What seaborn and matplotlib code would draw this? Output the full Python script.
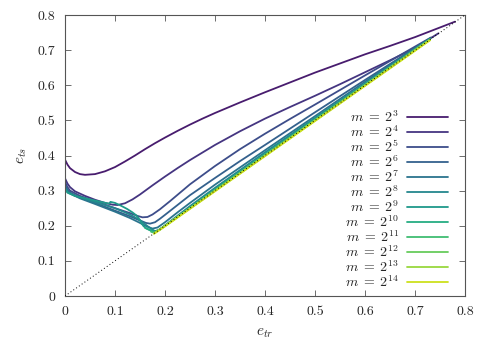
import numpy as np
import pandas as pd
import matplotlib
matplotlib.use("Agg")
import matplotlib.pyplot as plt
import seaborn as sns

# values (e_tr, e_ts), one curve per m
exponents = [3, 4, 5, 6, 7, 8, 9, 10, 11, 12, 13, 14]

etr_3 = [0, 0.005, 0.01, 0.02, 0.03, 0.04, 0.06, 0.08, 0.10, 0.12, 0.14, 0.16, 0.18, 0.20, 0.225,
         0.25, 0.275, 0.30, 0.35, 0.40, 0.45, 0.50, 0.55, 0.60, 0.65, 0.70, 0.74, 0.78]
ets_3 = [0.388, 0.374, 0.364, 0.353, 0.347, 0.345, 0.347, 0.355, 0.367, 0.383, 0.400, 0.418, 0.435,
         0.451, 0.470, 0.488, 0.505, 0.521, 0.551, 0.580, 0.608, 0.636, 0.662, 0.688, 0.712, 0.737,
         0.759, 0.781]

etr_4 = [0, 0.005, 0.01, 0.02, 0.04, 0.06, 0.08, 0.095, 0.105, 0.12, 0.135, 0.15, 0.175, 0.20, 0.225,
         0.25, 0.30, 0.35, 0.40, 0.45, 0.50, 0.55, 0.60, 0.65, 0.70, 0.747]
ets_4 = [0.335, 0.320, 0.310, 0.298, 0.285, 0.274, 0.265, 0.260, 0.259, 0.264, 0.275, 0.289, 0.315,
         0.340, 0.364, 0.387, 0.430, 0.469, 0.505, 0.538, 0.570, 0.603, 0.637, 0.671, 0.706, 0.748]

etr_5 = [0, 0.005, 0.01, 0.03, 0.06, 0.10, 0.13, 0.145, 0.155, 0.165, 0.175, 0.19, 0.21, 0.25, 0.30,
         0.35, 0.40, 0.45, 0.50, 0.60, 0.70, 0.732]
ets_5 = [0.325, 0.310, 0.300, 0.285, 0.270, 0.250, 0.236, 0.228, 0.224, 0.225, 0.232, 0.247, 0.270,
         0.318, 0.370, 0.418, 0.462, 0.504, 0.545, 0.628, 0.710, 0.736]

etr_6 = [0, 0.005, 0.01, 0.03, 0.06, 0.10, 0.13, 0.15, 0.162, 0.17, 0.18, 0.19, 0.20, 0.225, 0.25,
         0.30, 0.35, 0.40, 0.50, 0.60, 0.70, 0.731]
ets_6 = [0.316, 0.303, 0.295, 0.280, 0.265, 0.243, 0.227, 0.215, 0.208, 0.206, 0.210, 0.220, 0.231,
         0.259, 0.287, 0.336, 0.384, 0.430, 0.523, 0.615, 0.706, 0.734]

etr_7 = [0, 0.005, 0.01, 0.03, 0.06, 0.10, 0.13, 0.15, 0.165, 0.175, 0.185, 0.20, 0.225, 0.25, 0.30,
         0.35, 0.40, 0.50, 0.60, 0.70, 0.730]
ets_7 = [0.311, 0.299, 0.292, 0.278, 0.262, 0.240, 0.222, 0.208, 0.197, 0.192, 0.195, 0.210, 0.238,
         0.265, 0.317, 0.366, 0.415, 0.512, 0.610, 0.705, 0.733]

etr_8 = [0, 0.005, 0.02, 0.05, 0.10, 0.13, 0.15, 0.165, 0.175, 0.18, 0.19, 0.20, 0.25, 0.30, 0.40,
         0.50, 0.60, 0.70, 0.730]
ets_8 = [0.308, 0.296, 0.285, 0.272, 0.250, 0.232, 0.216, 0.199, 0.189, 0.185, 0.189, 0.201, 0.256,
         0.308, 0.409, 0.507, 0.605, 0.703, 0.732]

etr_9 = [0, 0.005, 0.02, 0.05, 0.075, 0.088, 0.091, 0.10, 0.112, 0.124, 0.135, 0.143, 0.149, 0.153,
         0.157, 0.162, 0.170, 0.178, 0.185, 0.20, 0.30, 0.40, 0.50, 0.60, 0.70, 0.730]
ets_9 = [0.305, 0.294, 0.285, 0.275, 0.267, 0.263, 0.268, 0.265, 0.257, 0.248, 0.238, 0.229, 0.218,
         0.207, 0.199, 0.193, 0.188, 0.184, 0.186, 0.200, 0.304, 0.404, 0.504, 0.603, 0.702, 0.731]

etr_10 = [0.16, 0.17, 0.175, 0.18, 0.19, 0.20, 0.30, 0.50, 0.70, 0.730]
ets_10 = [0.194, 0.187, 0.184, 0.181, 0.189, 0.200, 0.302, 0.502, 0.701, 0.731]

etr_11 = [0.172, 0.178, 0.185, 0.20, 0.30, 0.50, 0.70, 0.730]
ets_11 = [0.183, 0.180, 0.185, 0.200, 0.301, 0.501, 0.701, 0.730]

etr_12 = [0.178, 0.20, 0.30, 0.50, 0.70, 0.730]
ets_12 = [0.179, 0.200, 0.300, 0.500, 0.700, 0.730]

etr_13 = [0.178, 0.20, 0.30, 0.50, 0.70, 0.730]
ets_13 = [0.178, 0.199, 0.299, 0.499, 0.699, 0.729]

etr_14 = [0.178, 0.20, 0.30, 0.50, 0.70, 0.730]
ets_14 = [0.177, 0.198, 0.298, 0.498, 0.698, 0.728]

etr = [etr_3, etr_4, etr_5, etr_6, etr_7, etr_8, etr_9, etr_10, etr_11, etr_12, etr_13, etr_14]
ets = [ets_3, ets_4, ets_5, ets_6, ets_7, ets_8, ets_9, ets_10, ets_11, ets_12, ets_13, ets_14]

diag = [0, 0.8]

sns.set_style("ticks")
plt.rcParams['font.family'] = 'serif'
plt.rcParams['font.serif'] = ['cmr10']
plt.rcParams['mathtext.fontset'] = 'cm'
plt.rcParams['axes.unicode_minus'] = False
plt.rcParams['font.size'] = 10

fig = plt.figure(figsize=(4.93, 3.45), dpi=100)
ax = fig.add_axes([65 / 493, 49 / 345, 400 / 493, 281 / 345])

colors = sns.color_palette("viridis", len(exponents))
for k, e in enumerate(exponents):
    df = pd.DataFrame({'e_tr': etr[k], 'e_ts': ets[k]})
    sns.lineplot(data=df, x='e_tr', y='e_ts', sort=False, estimator=None,
                 color=colors[k], lw=1.3, label=rf'$m\;=\;2^{{{e}}}$', ax=ax)

# dotted diagonal e_ts = e_tr
ax.plot(diag, diag, color='black', lw=0.7, ls=(0, (1, 2.5)), zorder=5)

ax.set_xlim(0, 0.8)
ax.set_ylim(0, 0.8)
ticks = np.arange(0, 0.81, 0.1)
fmt = lambda v, p: '0' if abs(v) < 1e-9 else f'{v:.1f}'
ax.set_xticks(ticks)
ax.set_yticks(ticks)
ax.xaxis.set_major_formatter(matplotlib.ticker.FuncFormatter(fmt))
ax.yaxis.set_major_formatter(matplotlib.ticker.FuncFormatter(fmt))
ax.tick_params(direction='in', length=4, width=0.6, color='#555555',
               top=True, right=True, labelsize=10, pad=7)
for s in ax.spines.values():
    s.set_visible(True)
    s.set_color('#555555')
    s.set_linewidth(0.8)

ax.set_xlabel('$e_{tr}$', fontsize=11, labelpad=6)
ax.set_ylabel('$e_{ts}$', fontsize=11, labelpad=6)

ax.legend(loc='upper right', bbox_to_anchor=(0.9575, 0.665), frameon=False,
          markerfirst=False, handlelength=2.95, handletextpad=0.6,
          labelspacing=-0.05, borderpad=0, borderaxespad=0, fontsize=10)

fig.savefig('out.png', dpi=100)
